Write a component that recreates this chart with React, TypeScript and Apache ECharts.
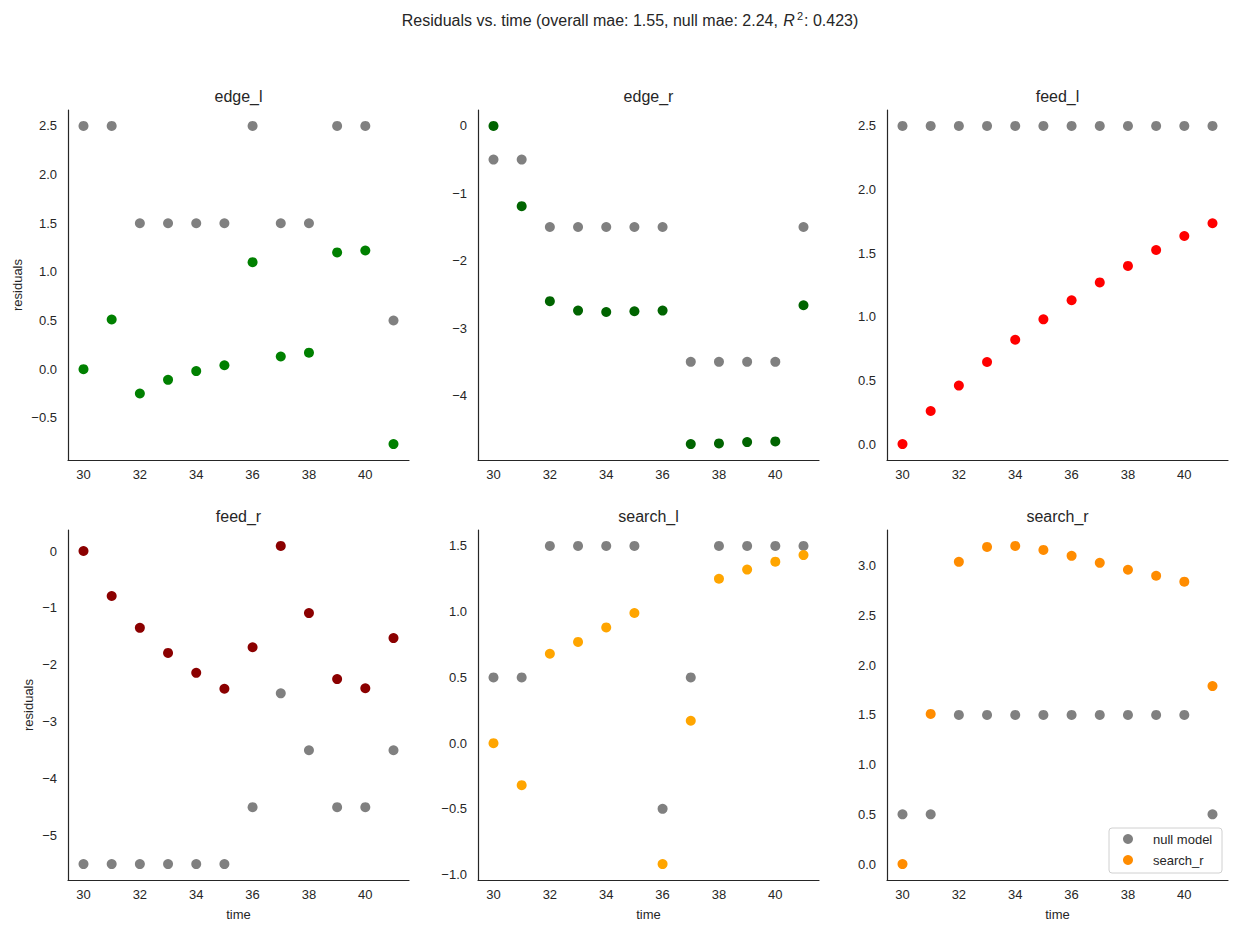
import React, { useEffect, useRef } from "react";
import * as echarts from "echarts";

// ---- data ----
const TIMES = [30, 31, 32, 33, 34, 35, 36, 37, 38, 39, 40, 41];
const PANELS = ["edge_l", "edge_r", "feed_l", "feed_r", "search_l", "search_r"];

const NULL_EDGE_L = [2.5, 2.5, 1.5, 1.5, 1.5, 1.5, 2.5, 1.5, 1.5, 2.5, 2.5, 0.5];
const FIT_EDGE_L = [0, 0.51, -0.25, -0.11, -0.02, 0.04, 1.1, 0.13, 0.17, 1.2, 1.22, -0.77];

const NULL_EDGE_R = [-0.5, -0.5, -1.5, -1.5, -1.5, -1.5, -1.5, -3.5, -3.5, -3.5, -3.5, -1.5];
const FIT_EDGE_R = [0, -1.19, -2.6, -2.74, -2.76, -2.75, -2.74, -4.72, -4.71, -4.69, -4.68, -2.66];

const NULL_FEED_L = [2.5, 2.5, 2.5, 2.5, 2.5, 2.5, 2.5, 2.5, 2.5, 2.5, 2.5, 2.5];
const FIT_FEED_L = [0, 0.26, 0.46, 0.645, 0.82, 0.98, 1.13, 1.27, 1.4, 1.525, 1.635, 1.735];

const NULL_FEED_R = [-5.5, -5.5, -5.5, -5.5, -5.5, -5.5, -4.5, -2.5, -3.5, -4.5, -4.5, -3.5];
const FIT_FEED_R = [0, -0.79, -1.35, -1.79, -2.14, -2.42, -1.69, 0.09, -1.09, -2.25, -2.41, -1.53];

const NULL_SEARCH_L = [0.5, 0.5, 1.5, 1.5, 1.5, 1.5, -0.5, 0.5, 1.5, 1.5, 1.5, 1.5];
const FIT_SEARCH_L = [0, -0.32, 0.68, 0.77, 0.88, 0.99, -0.92, 0.17, 1.25, 1.32, 1.38, 1.43];

const NULL_SEARCH_R = [0.5, 0.5, 1.5, 1.5, 1.5, 1.5, 1.5, 1.5, 1.5, 1.5, 1.5, 0.5];
const FIT_SEARCH_R = [0, 1.51, 3.04, 3.19, 3.2, 3.16, 3.1, 3.03, 2.96, 2.9, 2.84, 1.79];

const NULL_SERIES = [NULL_EDGE_L, NULL_EDGE_R, NULL_FEED_L, NULL_FEED_R, NULL_SEARCH_L, NULL_SEARCH_R];
const FIT_SERIES = [FIT_EDGE_L, FIT_EDGE_R, FIT_FEED_L, FIT_FEED_R, FIT_SEARCH_L, FIT_SEARCH_R];
const Y_TICK_STEP = [0.5, 1, 0.5, 1, 0.5, 0.5];
const X_TICK_STEP = 2;
const SUPTITLE = "Residuals vs. time (overall mae: 1.55, null mae: 2.24, {i|R}{s|2}: 0.423)";
const NULL_NAME = "null model";
const LEGEND_ITEMS = [NULL_NAME, "search_r"];

// ---- style ----
const FIT_COLORS = ["#008000", "#006400", "#ff0000", "#8b0000", "#ffa500", "#ff8c00"];
const NULL_COLOR = "#808080";
const INK = "#262626";
const FONT = "'Liberation Sans', Arial, Helvetica, sans-serif";
const COL_LEFT = [68, 478, 887];
const ROW_TOP = [110, 530];
const GRID_W = 341;
const GRID_H = 350;
const YNAME_GAP = [44, 33];

const padMin = (v: { min: number; max: number }) => v.min - 0.05 * (v.max - v.min);
const padMax = (v: { min: number; max: number }) => v.max + 0.05 * (v.max - v.min);
const fmt = (step: number) => (val: number) =>
  (step < 1 ? val.toFixed(1) : val.toFixed(0)).replace("-", "\u2212");

export default function App() {
  const ref = useRef<HTMLDivElement>(null);
  useEffect(() => {
    if (!ref.current) return;
    const chart = echarts.init(ref.current, undefined, { renderer: "svg" });

    const grids: any[] = [];
    const xAxes: any[] = [];
    const yAxes: any[] = [];
    const series: any[] = [];
    const titles: any[] = [
      {
        text: SUPTITLE,
        left: 630,
        top: 10,
        textAlign: "center",
        padding: 0,
        textStyle: {
          fontFamily: FONT,
          fontSize: 16,
          fontWeight: "normal",
          color: INK,
          lineHeight: 20,
          rich: {
            i: { fontFamily: FONT, fontSize: 16, fontStyle: "italic", color: INK, lineHeight: 20, padding: [0, 0, 0, 1] },
            s: { fontFamily: FONT, fontSize: 11, color: INK, verticalAlign: "top", lineHeight: 20, padding: [0, 1, 0, 2] },
          },
        },
      },
    ];

    PANELS.forEach((name, i) => {
      const col = i % 3;
      const row = Math.floor(i / 3);
      const left = COL_LEFT[col];
      const top = ROW_TOP[row];
      grids.push({ left, top, width: GRID_W, height: GRID_H, containLabel: false });
      titles.push({
        text: name,
        left: left + GRID_W / 2,
        top: top - 22,
        textAlign: "center",
        padding: 0,
        textStyle: { fontFamily: FONT, fontSize: 16, fontWeight: "normal", color: INK, lineHeight: 16 },
      });
      xAxes.push({
        type: "value",
        gridIndex: i,
        min: padMin,
        max: padMax,
        splitNumber: 6,
        minInterval: X_TICK_STEP,
        maxInterval: X_TICK_STEP,
        name: row === 1 ? "time" : "",
        nameLocation: "middle",
        nameGap: 28,
        nameTextStyle: { fontFamily: FONT, fontSize: 13, color: INK },
        axisLine: { show: true, onZero: false, lineStyle: { color: INK, width: 1.2 } },
        axisTick: { show: false },
        splitLine: { show: false },
        axisLabel: {
          color: INK,
          fontFamily: FONT,
          fontSize: 13,
          margin: 8,
          showMinLabel: false,
          showMaxLabel: false,
        },
      });
      const step = Y_TICK_STEP[i];
      yAxes.push({
        type: "value",
        gridIndex: i,
        min: padMin,
        max: padMax,
        splitNumber: 6,
        minInterval: step,
        maxInterval: step,
        name: col === 0 ? "residuals" : "",
        nameLocation: "middle",
        nameGap: YNAME_GAP[row],
        nameMoveOverlap: false,
        nameTextStyle: { fontFamily: FONT, fontSize: 13, color: INK },
        axisLine: { show: true, onZero: false, lineStyle: { color: INK, width: 1.2 } },
        axisTick: { show: false },
        splitLine: { show: false },
        axisLabel: {
          color: INK,
          fontFamily: FONT,
          fontSize: 13,
          margin: 11,
          showMinLabel: false,
          showMaxLabel: false,
          formatter: fmt(step),
        },
      });
      series.push({
        type: "scatter",
        name: NULL_NAME,
        xAxisIndex: i,
        yAxisIndex: i,
        symbol: "circle",
        symbolSize: 10,
        silent: true,
        itemStyle: { color: NULL_COLOR, opacity: 1 },
        data: TIMES.map((t, k) => [t, NULL_SERIES[i][k]]),
      });
      series.push({
        type: "scatter",
        name: name,
        xAxisIndex: i,
        yAxisIndex: i,
        symbol: "circle",
        symbolSize: 10,
        silent: true,
        itemStyle: { color: FIT_COLORS[i], opacity: 1 },
        data: TIMES.map((t, k) => [t, FIT_SERIES[i][k]]),
      });
    });

    const legendColors = [NULL_COLOR, FIT_COLORS[5]];
    const legendBox = { x: 1109, y: 828, w: 113, h: 45 };
    const graphic: any[] = [
      {
        type: "rect",
        shape: { x: legendBox.x, y: legendBox.y, width: legendBox.w, height: legendBox.h, r: 3 },
        style: { fill: "rgba(255,255,255,0.8)", stroke: "#d0d0d0", lineWidth: 1 },
        z: 100,
      },
    ];
    LEGEND_ITEMS.forEach((label, k) => {
      const cy = legendBox.y + 11 + k * 21;
      graphic.push({
        type: "circle",
        shape: { cx: legendBox.x + 19, cy, r: 5 },
        style: { fill: legendColors[k] },
        z: 101,
      });
      graphic.push({
        type: "text",
        x: legendBox.x + 44,
        y: cy,
        style: {
          text: label,
          fill: INK,
          font: `13px ${FONT}`,
          textAlign: "left",
          textVerticalAlign: "middle",
        },
        z: 101,
      });
    });

    chart.setOption({
      animation: false,
      backgroundColor: "#ffffff",
      title: titles,
      grid: grids,
      xAxis: xAxes,
      yAxis: yAxes,
      series,
      graphic,
    });
    return () => chart.dispose();
  }, []);
  return (
    <div
      ref={ref}
      style={{ position: "absolute", left: 0, top: 0, width: 1239, height: 933, background: "#fff" }}
    />
  );
}
